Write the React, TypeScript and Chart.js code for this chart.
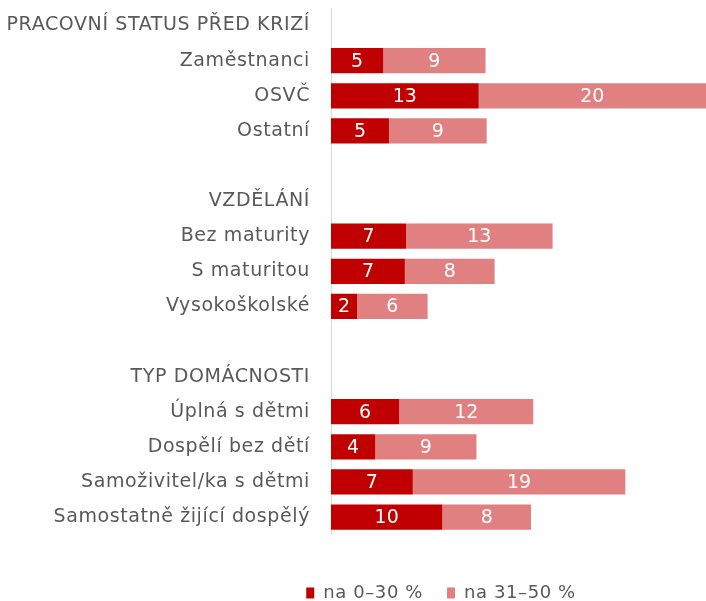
import React, { useEffect, useRef } from "react";
import { Chart, registerables } from "chart.js";

Chart.register(...registerables);

const categories = [
  "PRACOVNÍ STATUS PŘED KRIZÍ",
  "Zaměstnanci",
  "OSVČ",
  "Ostatní",
  "",
  "VZDĚLÁNÍ",
  "Bez maturity",
  "S maturitou",
  "Vysokoškolské",
  " ",
  "TYP DOMÁCNOSTI",
  "Úplná s dětmi",
  "Dospělí bez dětí",
  "Samoživitel/ka s dětmi",
  "Samostatně žijící dospělý",
];

const series0to30 = [null, 4.6, 13.0, 5.1, null, null, 6.6, 6.5, 2.3, null, null, 6.0, 3.9, 7.2, 9.8];
const series31to50 = [null, 9.0, 20.0, 8.6, null, null, 12.9, 7.9, 6.2, null, null, 11.8, 8.9, 18.7, 7.8];

const seriesNames = ["na 0–30 %", "na 31–50 %"];
const FONT = "'DejaVu Sans', sans-serif";
const TEXT = "#595959";

const spacing = {
  id: "spacing",
  beforeUpdate(chart: any) {
    chart.ctx.letterSpacing = "0.6px";
  },
  beforeDraw(chart: any) {
    chart.ctx.letterSpacing = "0.6px";
  },
};

const valueLabels = {
  id: "valueLabels",
  afterDatasetsDraw(chart: any) {
    const ctx = chart.ctx;
    ctx.save();
    ctx.letterSpacing = "0px";
    ctx.fillStyle = "#ffffff";
    ctx.font = `19px ${FONT}`;
    ctx.textAlign = "center";
    ctx.textBaseline = "middle";
    chart.data.datasets.forEach((ds: any, di: number) => {
      const meta = chart.getDatasetMeta(di);
      meta.data.forEach((bar: any, i: number) => {
        const v = ds.data[i];
        if (v == null) return;
        const x = (bar.x + bar.base) / 2;
        ctx.fillText(String(Math.round(v)), x, bar.y + 1);
      });
    });
    ctx.restore();
  },
};

const legendShift = {
  id: "legendShift",
  afterLayout(chart: any) {
    const lg = chart.legend;
    if (lg) {
      lg.left += 88;
      lg.right += 88;
    }
  },
};

export default function App() {
  const ref = useRef<HTMLCanvasElement>(null);
  useEffect(() => {
    if (!ref.current) return;
    const chart = new Chart(ref.current, {
      type: "bar",
      data: {
        labels: categories,
        datasets: [
          {
            label: seriesNames[0],
            data: series0to30,
            backgroundColor: "#C00000",
            barPercentage: 0.72,
            categoryPercentage: 1,
          },
          {
            label: seriesNames[1],
            data: series31to50,
            backgroundColor: "#E08080",
            barPercentage: 0.72,
            categoryPercentage: 1,
          },
        ],
      },
      options: {
        indexAxis: "y",
        animation: false,
        responsive: true,
        maintainAspectRatio: false,
        layout: { padding: { top: 8, right: 0, left: 0, bottom: 0 } },
        scales: {
          x: {
            stacked: true,
            display: true,
            min: 0,
            max: 33,
            grid: { display: false, drawTicks: false },
            border: { display: false },
            ticks: { display: false },
            title: {
              display: true,
              text: " ",
              font: { size: 12 },
              padding: { top: 11, bottom: 0 },
            },
          },
          y: {
            stacked: true,
            afterFit: (scale: any) => {
              scale.width = 331;
              scale.paddingTop = 0;
              scale.paddingBottom = 0;
            },
            grid: { display: false, drawTicks: false },
            border: { display: true, color: "#d9d9d9", width: 1 },
            ticks: {
              padding: 21,
              color: TEXT,
              font: { family: FONT, size: 19 },
              autoSkip: false,
            },
          },
        },
        plugins: {
          legend: {
            position: "bottom",
            labels: {
              boxWidth: 8,
              boxHeight: 11,
              padding: 24,
              color: TEXT,
              font: { family: FONT, size: 18 },
            },
          },
          tooltip: { enabled: false },
        },
      },
      plugins: [spacing, valueLabels, legendShift],
    });
    return () => chart.destroy();
  }, []);
  return (
    <div style={{ position: "fixed", left: 0, top: 0, width: 706, height: 612 }}>
      <canvas ref={ref} />
    </div>
  );
}
